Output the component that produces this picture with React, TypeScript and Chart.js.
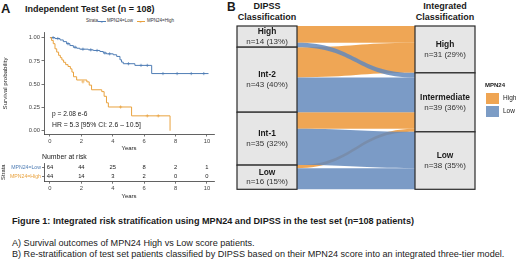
import React, { useEffect, useRef } from 'react';
import { Chart, registerables } from 'chart.js';

Chart.register(...registerables);

const FONT = '"Liberation Sans", Arial, Helvetica, sans-serif';
const BLUE = '#4F7DB5';
const ORANGE = '#E9A23E';
const AXIS = '#3a3a3a';

// ---- Panel A: Kaplan-Meier (years, survival probability) ----
const lowTimes = [0, 0.32, 0.64, 0.85, 1.06, 1.27, 1.49, 1.7, 1.9, 2.44, 2.76, 3.18, 3.4, 3.6, 4.03, 4.25, 4.46, 4.56, 4.67, 5.41, 6.48, 10.1];
const lowSurv = [1, 0.99, 0.975, 0.957, 0.935, 0.915, 0.897, 0.886, 0.876, 0.869, 0.862, 0.851, 0.835, 0.826, 0.816, 0.798, 0.762, 0.737, 0.72, 0.702, 0.614, 0.614];
const highTimes = [0, 0.1, 0.21, 0.32, 0.43, 0.55, 0.66, 0.76, 0.87, 1.0, 1.15, 1.3, 1.4, 1.5, 1.7, 2.35, 2.5, 2.65, 3.3, 3.45, 3.6, 3.72, 5.2, 7.65];
const highSurv = [1, 0.97, 0.935, 0.88, 0.845, 0.81, 0.785, 0.76, 0.735, 0.71, 0.69, 0.665, 0.63, 0.58, 0.545, 0.525, 0.49, 0.44, 0.42, 0.37, 0.3, 0.255, 0.16, 0];
const lowCensorTimes = [0.2, 0.5, 1.15, 1.6, 2.1, 2.6, 3.0, 3.5, 3.8, 5.0, 5.8, 6.2, 7.2, 8.1, 9.0, 9.8];
const lowCensorSurv = [1, 0.99, 0.935, 0.897, 0.876, 0.869, 0.862, 0.835, 0.826, 0.72, 0.702, 0.702, 0.614, 0.614, 0.614, 0.614];
const highCensorTimes = [2.1, 4.5, 6.2, 6.9];
const highCensorSurv = [0.525, 0.255, 0.16, 0.16];
const xTicks = [0, 2, 4, 6, 8, 10];
const yTicks = [0, 0.25, 0.5, 0.75, 1];

// ---- Number at risk ----
const strataLabels = ['MPN24=Low', 'MPN24=High'];
const riskTimes = [0, 2, 4, 6, 8, 10];
const riskLow = [64, 44, 25, 8, 2, 1];
const riskHigh = [44, 14, 3, 2, 0, 0];

// ---- Panel B: alluvial ----
const totalPatients = 108;
const dipssLabels = ['High', 'Int-2', 'Int-1', 'Low'];
const dipssCounts = [14, 43, 35, 16];
const integratedLabels = ['High', 'Intermediate', 'Low'];
const integratedCounts = [31, 39, 38];
const flowFrom = [0, 0, 1, 1, 2, 2, 3, 3];
const flowTo = [0, 1, 0, 1, 1, 2, 1, 2];
const flowScore = ['High', 'Low', 'High', 'Low', 'High', 'Low', 'High', 'Low'];
const flowCount = [11, 3, 20, 23, 11, 24, 2, 14];
const scoreLevels = ['High', 'Low'];

const FLOW_FILL: Record<string, string> = { High: 'rgba(236,150,55,0.85)', Low: 'rgba(100,138,188,0.85)' };
const SWATCH: Record<string, string> = { High: '#EFA553', Low: '#7C9CC5' };

const pts = (t: number[], s: number[]) => t.map((v, i) => ({ x: v, y: s[i] }));

function Txt(props: { x: number; y: number; size: number; bold?: boolean; center?: boolean; color?: string; rotate?: boolean; children: React.ReactNode }) {
  const { x, y, size, bold, center, color, rotate, children } = props;
  const tx = center || rotate ? '-50%' : '0';
  return (
    <div
      style={{
        position: 'absolute',
        left: x,
        top: y,
        fontFamily: FONT,
        fontSize: size,
        fontWeight: bold ? 700 : 400,
        color: color || '#1a1a1a',
        lineHeight: 1,
        whiteSpace: 'nowrap',
        transform: `translate(${tx}, -50%)${rotate ? ' rotate(-90deg)' : ''}`,
      }}
    >
      {children}
    </div>
  );
}

function KMChart() {
  const ref = useRef<HTMLCanvasElement>(null);
  useEffect(() => {
    const chart = new Chart(ref.current!, {
      type: 'line',
      data: {
        datasets: [
          { data: pts(highTimes, highSurv), borderColor: ORANGE, borderWidth: 1, stepped: true, pointRadius: 0, fill: false } as any,
          { data: pts(lowTimes, lowSurv), borderColor: BLUE, borderWidth: 1, stepped: true, pointRadius: 0, fill: false } as any,
          { type: 'scatter', data: pts(lowCensorTimes, lowCensorSurv), pointStyle: 'cross', pointRadius: 1.6, borderColor: BLUE, borderWidth: 0.7, showLine: false } as any,
          { type: 'scatter', data: pts(highCensorTimes, highCensorSurv), pointStyle: 'cross', pointRadius: 1.6, borderColor: ORANGE, borderWidth: 0.7, showLine: false } as any,
        ],
      },
      options: {
        responsive: false,
        animation: false,
        layout: { padding: { top: 4, right: 6, left: 0, bottom: 0 } },
        plugins: { legend: { display: false }, tooltip: { enabled: false } },
        scales: {
          x: {
            type: 'linear',
            min: -0.38,
            max: 10.45,
            afterBuildTicks: (s: any) => { s.ticks = xTicks.map((v) => ({ value: v })); },
            afterFit: (s: any) => { s.height = 18; },
            grid: { drawOnChartArea: false, drawTicks: true, tickLength: 2.5, color: AXIS, lineWidth: 0.7 },
            border: { display: true, color: AXIS, width: 0.8 },
            ticks: { font: { family: FONT, size: 5.8 }, color: '#444', padding: 1, maxRotation: 0 },
            title: { display: true, text: 'Years', font: { family: FONT, size: 6 }, color: '#222', padding: { top: 0, bottom: 0 } },
          },
          y: {
            type: 'linear',
            min: -0.035,
            max: 1.05,
            afterBuildTicks: (s: any) => { s.ticks = yTicks.map((v) => ({ value: v })); },
            afterFit: (s: any) => { s.width = 44; },
            grid: { drawOnChartArea: false, drawTicks: true, tickLength: 2.5, color: AXIS, lineWidth: 0.7 },
            border: { display: true, color: AXIS, width: 0.8 },
            ticks: { font: { family: FONT, size: 5.8 }, color: '#444', padding: 1.5, callback: (v: any) => Number(v).toFixed(2) },
            title: { display: true, text: 'Survival probability', font: { family: FONT, size: 6.2 }, color: '#222', padding: { top: 2, bottom: 0 } },
          },
        },
      },
    });
    return () => chart.destroy();
  }, []);
  return <canvas ref={ref} width={220} height={124} style={{ position: 'absolute', left: 0, top: 28, width: 220, height: 124 }} />;
}

function RiskTable() {
  const ref = useRef<HTMLCanvasElement>(null);
  useEffect(() => {
    const numbersPlugin = {
      id: 'riskNumbers',
      afterDatasetsDraw(chart: any) {
        const { ctx, scales } = chart;
        ctx.save();
        ctx.font = `5.8px ${FONT}`;
        ctx.fillStyle = '#1a1a1a';
        ctx.textAlign = 'center';
        ctx.textBaseline = 'middle';
        [riskLow, riskHigh].forEach((row, r) => {
          row.forEach((n, j) => {
            ctx.fillText(String(n), scales.x.getPixelForValue(riskTimes[j]), scales.y.getPixelForValue(r));
          });
        });
        ctx.restore();
      },
    };
    const chart = new Chart(ref.current!, {
      type: 'scatter',
      data: { datasets: [{ data: riskTimes.map((t) => ({ x: t, y: 0 })), pointRadius: 0 }] },
      options: {
        responsive: false,
        animation: false,
        layout: { padding: { top: 13.2, right: 6, left: 0, bottom: 0 } },
        plugins: { legend: { display: false }, tooltip: { enabled: false } },
        scales: {
          x: {
            type: 'linear',
            min: -0.38,
            max: 10.45,
            afterBuildTicks: (s: any) => { s.ticks = xTicks.map((v) => ({ value: v })); },
            afterFit: (s: any) => { s.height = 18.8; },
            grid: { drawOnChartArea: false, drawTicks: true, tickLength: 2.5, color: AXIS, lineWidth: 0.7 },
            border: { display: true, color: AXIS, width: 0.8 },
            ticks: { font: { family: FONT, size: 5.8 }, color: '#444', padding: 1, maxRotation: 0 },
            title: { display: true, text: 'Years', font: { family: FONT, size: 6 }, color: '#222', padding: { top: 0, bottom: 0 } },
          },
          y: {
            type: 'linear',
            reverse: true,
            min: -0.5,
            max: 1.5,
            afterBuildTicks: (s: any) => { s.ticks = strataLabels.map((_, i) => ({ value: i })); },
            afterFit: (s: any) => { s.width = 44; },
            grid: { drawOnChartArea: false, drawTicks: true, tickLength: 2, color: AXIS, lineWidth: 0.7 },
            border: { display: true, color: AXIS, width: 0.8 },
            ticks: {
              font: { family: FONT, size: 5.2 },
              padding: 1,
              color: (c: any) => (c.tick && c.tick.value === 0 ? BLUE : ORANGE),
              callback: (v: any) => strataLabels[Number(v)],
            },
            title: { display: true, text: 'Strata', font: { family: FONT, size: 5.8 }, color: '#222', padding: { top: 0, bottom: 0 } },
          },
        },
      },
      plugins: [numbersPlugin],
    });
    return () => chart.destroy();
  }, []);
  return <canvas ref={ref} width={220} height={50} style={{ position: 'absolute', left: 0, top: 150, width: 220, height: 50 }} />;
}

function Alluvial() {
  const ref = useRef<HTMLCanvasElement>(null);
  useEffect(() => {
    const nodeFrac = 60 / 238;
    const sankeyPlugin = {
      id: 'alluvial',
      afterDatasetsDraw(chart: any) {
        const { ctx, scales } = chart;
        const xs = scales.x;
        const ys = scales.y;
        const lx0 = xs.getPixelForValue(0);
        const lx1 = xs.getPixelForValue(nodeFrac);
        const rx0 = xs.getPixelForValue(1 - nodeFrac);
        const rx1 = xs.getPixelForValue(1);
        const leftStart: number[] = [];
        let acc = 0;
        dipssCounts.forEach((c) => { leftStart.push(acc); acc += c; });
        const rightStart: number[] = [];
        acc = 0;
        integratedCounts.forEach((c) => { rightStart.push(acc); acc += c; });
        const idx = flowCount.map((_, i) => i);
        const lY: number[] = [];
        const rY: number[] = [];
        dipssCounts.forEach((_, n) => {
          let off = leftStart[n];
          idx.filter((i) => flowFrom[i] === n).sort((a, b) => flowTo[a] - flowTo[b]).forEach((i) => { lY[i] = off; off += flowCount[i]; });
        });
        integratedCounts.forEach((_, n) => {
          let off = rightStart[n];
          idx.filter((i) => flowTo[i] === n).sort((a, b) => flowFrom[a] - flowFrom[b]).forEach((i) => { rY[i] = off; off += flowCount[i]; });
        });
        const mid = (lx1 + rx0) / 2;
        ctx.save();
        scoreLevels.forEach((g) => {
          idx.filter((i) => flowScore[i] === g).forEach((i) => {
            const a0 = ys.getPixelForValue(lY[i]);
            const a1 = ys.getPixelForValue(lY[i] + flowCount[i]);
            const b0 = ys.getPixelForValue(rY[i]);
            const b1 = ys.getPixelForValue(rY[i] + flowCount[i]);
            ctx.beginPath();
            ctx.moveTo(lx1, a0);
            ctx.bezierCurveTo(mid, a0, mid, b0, rx0, b0);
            ctx.lineTo(rx0, b1);
            ctx.bezierCurveTo(mid, b1, mid, a1, lx1, a1);
            ctx.closePath();
            ctx.fillStyle = FLOW_FILL[g];
            ctx.fill();
          });
        });
        const drawNodes = (labels: string[], counts: number[], starts: number[], x0: number, x1: number) => {
          labels.forEach((lab, i) => {
            const t = ys.getPixelForValue(starts[i]);
            const b = ys.getPixelForValue(starts[i] + counts[i]);
            ctx.fillStyle = '#E6E6E6';
            ctx.fillRect(x0, t, x1 - x0, b - t);
            ctx.strokeStyle = '#2a2a2a';
            ctx.lineWidth = 1.2;
            ctx.strokeRect(x0, t, x1 - x0, b - t);
            const cx = (x0 + x1) / 2;
            const cy = (t + b) / 2;
            ctx.textAlign = 'center';
            ctx.textBaseline = 'middle';
            ctx.fillStyle = '#1a1a1a';
            ctx.font = `bold 8.4px ${FONT}`;
            ctx.fillText(lab, cx, cy - 4.8);
            ctx.fillStyle = '#333';
            ctx.font = `8px ${FONT}`;
            const pct = Math.round((counts[i] / totalPatients) * 100);
            ctx.fillText(`n=${counts[i]} (${pct}%)`, cx, cy + 5);
          });
        };
        drawNodes(dipssLabels, dipssCounts, leftStart, lx0, lx1);
        drawNodes(integratedLabels, integratedCounts, rightStart, rx0, rx1);
        ctx.restore();
      },
    };
    const chart = new Chart(ref.current!, {
      type: 'scatter',
      data: { datasets: [{ data: [], pointRadius: 0 }] },
      options: {
        responsive: false,
        animation: false,
        layout: { padding: { top: 26, left: 7, right: 45, bottom: 10.7 } },
        plugins: { legend: { display: false }, tooltip: { enabled: false } },
        scales: {
          x: { type: 'linear', min: 0, max: 1, display: false },
          y: { type: 'linear', min: 0, max: totalPatients, reverse: true, display: false },
        },
      },
      plugins: [sankeyPlugin],
    });
    return () => chart.destroy();
  }, []);
  return <canvas ref={ref} width={290} height={200} style={{ position: 'absolute', left: 230, top: 0, width: 290, height: 200 }} />;
}

function LegendKey({ x, color }: { x: number; color: string }) {
  return (
    <div style={{ position: 'absolute', left: x, top: 20.5, width: 8, height: 0, borderTop: `0.8px solid ${color}` }}>
      <div style={{ position: 'absolute', left: 2.5, top: -2, width: 3, height: 3, fontSize: 4, lineHeight: '3px', color, fontFamily: FONT }}>+</div>
    </div>
  );
}

export default function App() {
  return (
    <div style={{ position: 'absolute', left: 0, top: 0, width: 520, height: 260, background: '#fff', overflow: 'hidden' }}>
      {/* Panel A */}
      <Txt x={1} y={8} size={13} bold>A</Txt>
      <Txt x={25} y={8.5} size={9} bold>Independent Test Set (n = 108)</Txt>
      <Txt x={86} y={21} size={4.5} color="#333">Strata</Txt>
      <LegendKey x={98} color={BLUE} />
      <Txt x={107} y={21} size={4.5} color="#333">{strataLabels[0]}</Txt>
      <LegendKey x={137} color={ORANGE} />
      <Txt x={147} y={21} size={4.5} color="#333">{strataLabels[1]}</Txt>
      <KMChart />
      <Txt x={52} y={114} size={6.6}>p = 2.08 e-6</Txt>
      <Txt x={52} y={125} size={6.8}>HR = 5.3 [95% CI: 2.6 – 10.5]</Txt>
      <Txt x={42} y={157} size={6.9}>Number at risk</Txt>
      <RiskTable />

      {/* Panel B */}
      <Txt x={227} y={7} size={12} bold>B</Txt>
      <Txt x={267} y={5.5} size={9} bold center>DIPSS</Txt>
      <Txt x={267} y={16.5} size={9} bold center>Classification</Txt>
      <Txt x={445} y={5.5} size={9} bold center>Integrated</Txt>
      <Txt x={445} y={16.5} size={9} bold center>Classification</Txt>
      <Alluvial />
      <Txt x={485} y={85} size={6} bold>MPN24</Txt>
      {scoreLevels.map((g, i) => (
        <React.Fragment key={g}>
          <div style={{ position: 'absolute', left: 486, top: 92.5 + i * 13, width: 13, height: 11, background: SWATCH[g] }} />
          <Txt x={503} y={98 + i * 13} size={6.5} color="#222">{g}</Txt>
        </React.Fragment>
      ))}

      {/* Caption */}
      <Txt x={12} y={222} size={9.1} bold>Figure 1: Integrated risk stratification using MPN24 and DIPSS in the test set (n=108 patients)</Txt>
      <Txt x={12} y={244} size={9.1}>A) Survival outcomes of MPN24 High vs Low score patients.</Txt>
      <Txt x={12} y={254.5} size={9.1}>B) Re-stratification of test set patients classified by DIPSS based on their MPN24 score into an integrated three-tier model.</Txt>
    </div>
  );
}
